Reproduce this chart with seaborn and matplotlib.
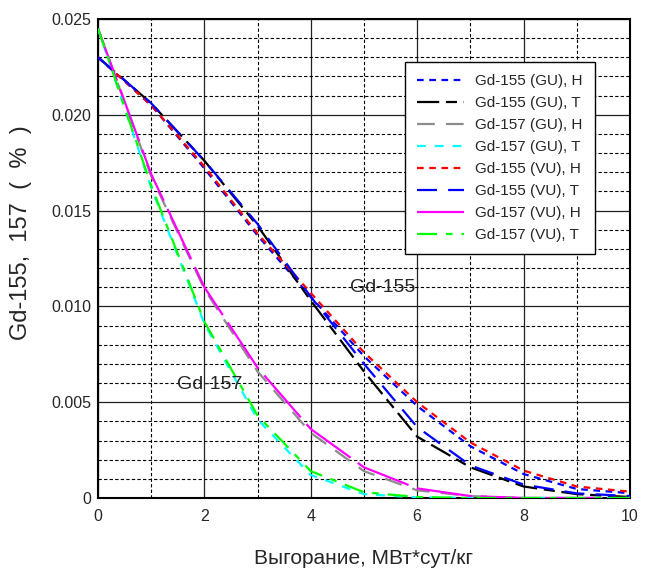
import numpy as np
import pandas as pd
import matplotlib
matplotlib.use('Agg')
import matplotlib.pyplot as plt
import seaborn as sns
from matplotlib.ticker import MultipleLocator

# Burnup points (MW*day/kg)
burnup = [0, 1, 2, 3, 4, 5, 6, 7, 8, 9, 10]

# Gd concentrations (%)
gd155_gu_h = [0.0230, 0.0205, 0.0172, 0.0137, 0.0105, 0.0074, 0.0048, 0.0027, 0.00125, 0.00047, 0.00025]
gd155_gu_t = [0.0230, 0.0206, 0.0176, 0.0142, 0.0103, 0.0066, 0.0032, 0.0016, 0.0006, 0.0002, 0.00005]
gd157_gu_h = [0.0245, 0.0168, 0.0109, 0.0066, 0.0034, 0.0014, 0.0004, 0.0001, 0.0, 0.0, 0.0]
gd157_gu_t = [0.0245, 0.0162, 0.0091, 0.0041, 0.0012, 0.0002, 0.00003, 0.0, 0.0, 0.0, 0.0]
gd155_vu_h = [0.0230, 0.0205, 0.0173, 0.0138, 0.0107, 0.0076, 0.0050, 0.0029, 0.00143, 0.0006, 0.00033]
gd155_vu_t = [0.0230, 0.0206, 0.0176, 0.0143, 0.0105, 0.0070, 0.0037, 0.0017, 0.0007, 0.00024, 0.0001]
gd157_vu_h = [0.0245, 0.0169, 0.0110, 0.0068, 0.0036, 0.0016, 0.0005, 0.0001, 0.0, 0.0, 0.0]
gd157_vu_t = [0.0245, 0.0163, 0.0092, 0.0043, 0.0014, 0.0003, 0.00005, 0.0, 0.0, 0.0, 0.0]

series_labels = ['Gd-155 (GU), H', 'Gd-155 (GU), T', 'Gd-157 (GU), H', 'Gd-157 (GU), T',
                 'Gd-155 (VU), H', 'Gd-155 (VU), T', 'Gd-157 (VU), H', 'Gd-157 (VU), T']
series_values = [gd155_gu_h, gd155_gu_t, gd157_gu_h, gd157_gu_t,
                 gd155_vu_h, gd155_vu_t, gd157_vu_h, gd157_vu_t]

colors = ['#0000ff', '#000000', '#8c8c8c', '#00ffff', '#ff0000', '#0000ff', '#ff00ff', '#00ff00']
dashes = [(3, 2.5), (10, 3, 5, 3), (8, 5), (4, 4), (3, 2.5), (9, 5), (25, 4), (9, 4, 3, 4)]

sns.set_style('white')
plt.rcParams['font.family'] = ['Liberation Sans', 'DejaVu Sans']

fig = plt.figure(figsize=(6.46, 5.72), dpi=100)
ax = fig.add_axes([0.1517, 0.1294, 0.8235, 0.8374])

# major/minor grid like the original
ax.xaxis.set_major_locator(MultipleLocator(2))
ax.xaxis.set_minor_locator(MultipleLocator(1))
ax.yaxis.set_major_locator(MultipleLocator(0.005))
ax.yaxis.set_minor_locator(MultipleLocator(0.001))
ax.grid(which='major', color='#222222', linestyle='-', linewidth=0.9, zorder=0)
ax.grid(which='minor', color='#000000', linestyle=(0, (3, 2)), linewidth=0.8, zorder=0)

for lab, vals, c, d in zip(series_labels, series_values, colors, dashes):
    sns.lineplot(x=burnup, y=vals, color=c, linestyle=(0, d), linewidth=1.6,
                 label=lab, ax=ax, zorder=3)

ax.set_xlim(0, 10)
ax.set_ylim(0, 0.025)
ax.set_yticks([0, 0.005, 0.010, 0.015, 0.020, 0.025])
ax.set_yticklabels(['0', '0.005', '0.010', '0.015', '0.020', '0.025'])
ax.tick_params(which='both', direction='in', length=0, labelsize=11.5)
ax.tick_params(axis='x', pad=8)
ax.tick_params(axis='y', pad=5)

for s in ax.spines.values():
    s.set_color('black')
    s.set_linewidth(1.5)

ax.set_xlabel('Выгорание, МВт*сут/кг', fontsize=15, labelpad=18)
ax.set_ylabel('Gd-155,  157  (  %  )', fontsize=17)
ax.yaxis.set_label_coords(-0.124, 0.555)

ax.text(5.35, 0.0110, 'Gd-155', fontsize=14, ha='center', va='center', zorder=4)
ax.text(2.1, 0.0059, 'Gd-157', fontsize=14, ha='center', va='center', zorder=4)

leg = ax.legend(loc='upper right', bbox_to_anchor=(0.934, 0.910), borderaxespad=0,
                fontsize=11, frameon=True, fancybox=False, framealpha=1, edgecolor='black',
                handlelength=3.1, labelspacing=0.52, borderpad=0.8, handletextpad=0.7)
leg.get_frame().set_linewidth(1.0)
leg.set_zorder(5)

fig.savefig('out.png', dpi=100)
